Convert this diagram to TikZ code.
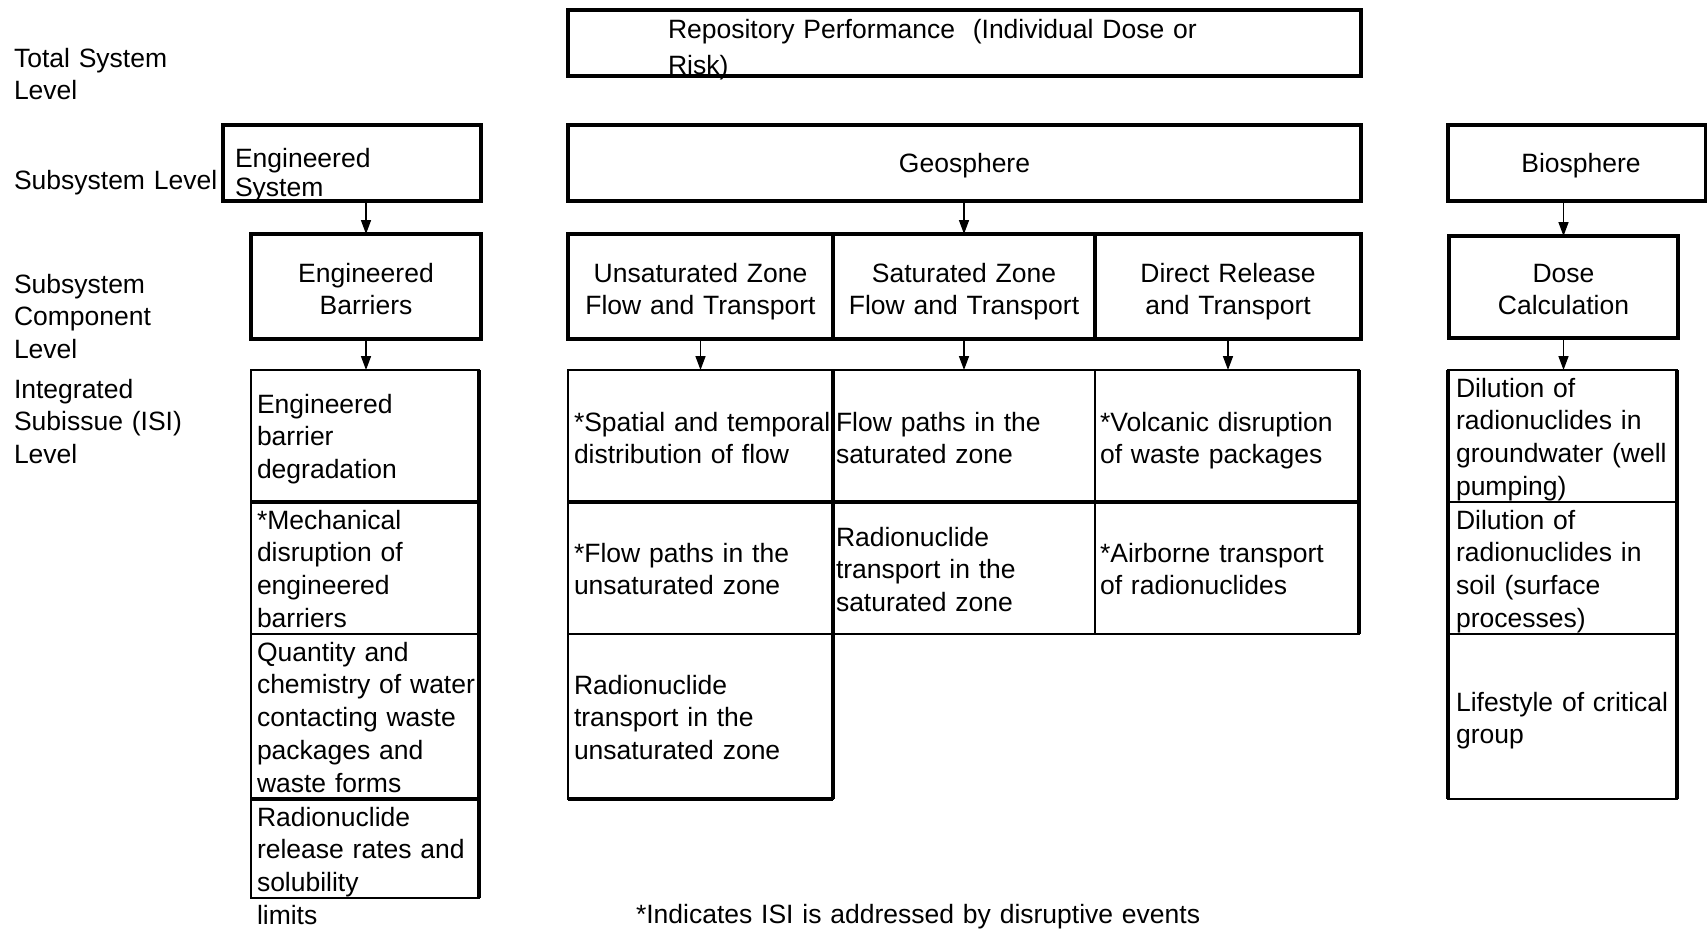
\documentclass[tikz,border=0pt]{standalone}
\usepackage{fontspec}
\setmainfont{Liberation Sans}
\usetikzlibrary{arrows.meta,fit}

\begin{document}
\begin{tikzpicture}[x=1pt,y=-1pt,
  every node/.style={font=\fontsize{26.5pt}{32.8pt}\selectfont, inner sep=0pt, outer sep=0pt},
  heavy/.style={draw, line width=4.5pt},
  cell/.style={draw, line width=2.4pt},
  rule/.style={line width=3.8pt},
  mid/.style={anchor=base, text width=300pt, align=center},
  txt/.style={anchor=base west, text width=620pt, align=left},
  arr/.style={line width=1.5pt, -{Triangle[width=10pt,length=14pt]}},
]
\useasboundingbox (0,0) rectangle (1707,929);

% ---- level labels on the left
\node[txt] (lTotal) at (14,67)  {Total System\\Level};
\node[txt] (lSub)   at (14,189) {Subsystem Level};
\node[txt] (lComp)  at (14,293) {Subsystem\\Component\\Level};
\node[txt] (lIsi)   at (14,398) {Integrated\\Subissue (ISI)\\Level};

% ---- total system level
\node[heavy, fit={(568,10) (1361,76)}] (repo) {};
\node[txt] (tRepo) at (668,38) {Repository Performance\ \ (Individual Dose or\\[3.2pt]Risk)};

% ---- subsystem level
\node[heavy, fit={(223,125) (481,201)}] (esys) {};
\node[txt] (tEsys) at (235,167) {Engineered\\[-3.8pt]System};
\node[heavy, fit={(568,125) (1361,201)}] (geo) {};
\node[mid] (tGeo) at ([yshift=-9pt]geo.center) {Geosphere};
\node[heavy, fit={(1448,125) (1706,201)}] (bio) {};
\node[mid] (tBio) at ([xshift=4pt,yshift=-9pt]bio.center) {Biosphere};

% ---- subsystem component level
\node[heavy, fit={(251,234) (481,339)}]  (ebar) {};
\node[heavy, fit={(568,234) (833,339)}]  (uz)   {};
\node[heavy, fit={(833,234) (1095,339)}] (sz)   {};
\node[heavy, fit={(1095,234) (1361,339)}] (dr)  {};
\node[heavy, fit={(1449,236) (1678,338)}] (dose) {};
\node[mid] (tEbar) at ([yshift=4.5pt]ebar.center) {Engineered\\Barriers};
\node[mid] (tUz)   at ([yshift=4.5pt]uz.center)   {Unsaturated Zone\\Flow and Transport};
\node[mid] (tSz)   at ([yshift=4.5pt]sz.center)   {Saturated Zone\\Flow and Transport};
\node[mid] (tDr)   at ([yshift=4.5pt]dr.center)   {Direct Release\\and Transport};
\node[mid] (tDose) at ([yshift=5pt]dose.center)   {Dose\\Calculation};

% ---- integrated subissue cells
\node[cell, fit={(251,370) (479,502)}] (e1) {};
\node[cell, fit={(251,502) (479,634)}] (e2) {};
\node[cell, fit={(251,634) (479,799)}] (e3) {};
\node[cell, fit={(251,799) (479,898)}] (e4) {};

\node[cell, fit={(568,370) (833,502)}] (g11) {};
\node[cell, fit={(568,502) (833,634)}] (g12) {};
\node[cell, fit={(568,634) (833,799)}] (g13) {};
\node[cell, fit={(833,370) (1095,502)}] (g21) {};
\node[cell, fit={(833,502) (1095,634)}] (g22) {};
\node[cell, fit={(1095,370) (1359,502)}] (g31) {};
\node[cell, fit={(1095,502) (1359,634)}] (g32) {};

\node[cell, fit={(1448,370) (1677,502)}] (b1) {};
\node[cell, fit={(1448,502) (1677,634)}] (b2) {};
\node[cell, fit={(1448,634) (1677,799)}] (b3) {};

% heavier rules inside the grids
\draw[rule] (e1.south west) -- (e1.south east);
\draw[rule] (e3.south west) -- (e3.south east);
\draw[rule] (e1.north east) -- (e4.south east);
\draw[rule] (g11.south west) -- (g31.south east);
\draw[rule] (g11.north east) -- (g13.south east);
\draw[rule] (g13.south west) -- (g13.south east);
\draw[rule] (g31.north east) -- (g32.south east);
\draw[rule] (b1.north west) -- (b3.south west);
\draw[rule] (b1.north east) -- (b3.south east);

% ---- cell texts
\node[txt] (te1) at (257,413) {Engineered\\barrier\\degradation};
\node[txt] (te2) at (257,529) {*Mechanical\\disruption of\\engineered\\barriers};
\node[txt] (te3) at (257,661) {Quantity and\\chemistry of water\\contacting waste\\packages and\\waste forms};
\node[txt] (te4) at (257,826) {Radionuclide\\release rates and\\solubility\\limits};

\node[txt] (tg11) at (574,431) {*Spatial and temporal\\distribution of flow};
\node[txt] (tg12) at (574,562) {*Flow paths in the\\unsaturated zone};
\node[txt] (tg13) at (574,694) {Radionuclide\\transport in the\\unsaturated zone};
\node[txt] (tg21) at (836,431) {Flow paths in the\\saturated zone};
\node[txt] (tg22) at (836,546) {Radionuclide\\transport in the\\saturated zone};
\node[txt] (tg31) at (1100,431) {*Volcanic disruption\\of waste packages};
\node[txt] (tg32) at (1100,562) {*Airborne transport\\of radionuclides};

\node[txt] (tb1) at (1456,397) {Dilution of\\radionuclides in\\groundwater (well\\pumping)};
\node[txt] (tb2) at (1456,529) {Dilution of\\radionuclides in\\soil (surface\\processes)};
\node[txt] (tb3) at (1456,711) {Lifestyle of critical\\group};

\node[txt] (note) at (636,923) {*Indicates ISI is addressed by disruptive events};

% ---- connectors
\draw[arr] (esys.south -| ebar.north) -- (ebar.north);
\draw[arr] (ebar.south) -- (ebar.south |- e1.north);
\draw[arr] (geo.south -| sz.north) -- (sz.north);
\draw[arr] (uz.south) -- (uz.south |- g11.north);
\draw[arr] (sz.south) -- (sz.south |- g21.north);
\draw[arr] (dr.south) -- (dr.south |- g31.north);
\draw[arr] (bio.south -| dose.north) -- (dose.north);
\draw[arr] (dose.south) -- (dose.south |- b1.north);
\end{tikzpicture}
\end{document}
